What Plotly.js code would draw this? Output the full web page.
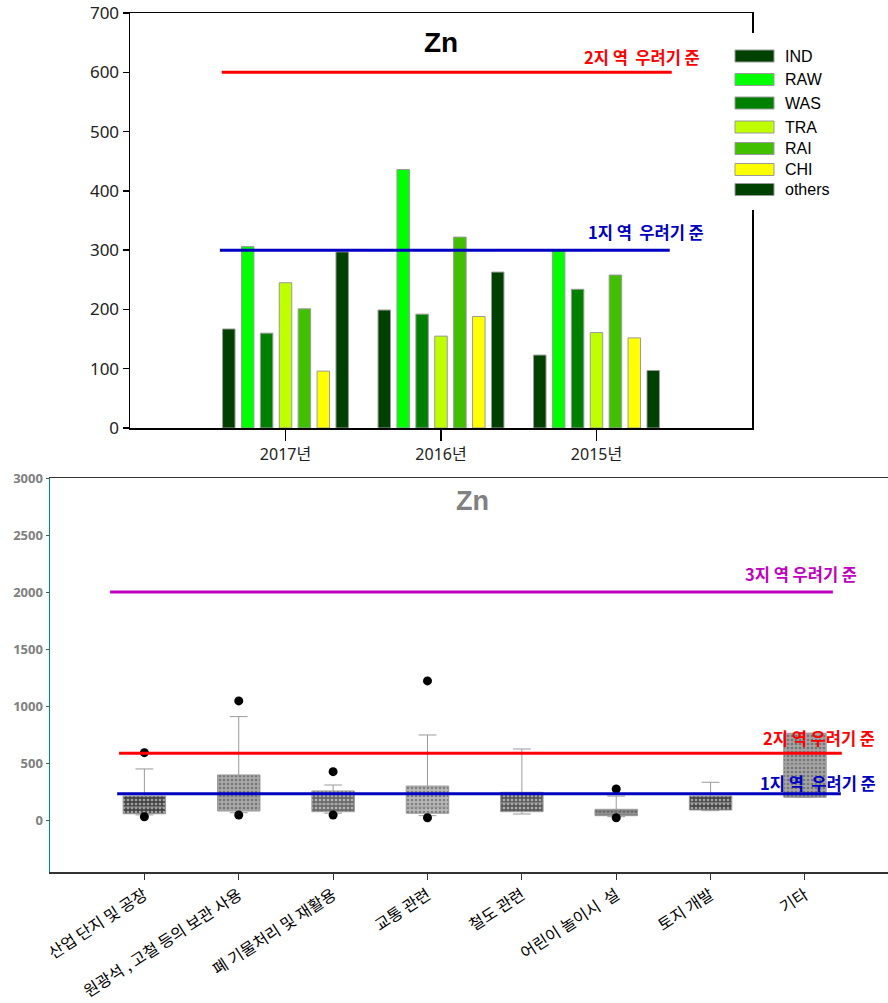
<!DOCTYPE html>
<html>
<head>
<meta charset="utf-8">
<script src="https://cdn.plot.ly/plotly-3.0.1.min.js"></script>
<style>html,body{margin:0;padding:0;background:#fff}#chart{width:888px;height:1003px}</style>
</head>
<body>
<div id="chart"></div>
<script>
// ---------- DATA: top bar chart ----------
const years = ['2017년', '2016년', '2015년'];
const seriesNames = ['IND', 'RAW', 'WAS', 'TRA', 'RAI', 'CHI', 'others'];
const IND    = [167, 199, 123];
const RAW    = [306, 436, 301];
const WAS    = [160, 192, 234];
const TRA    = [245, 155, 161];
const RAI    = [201, 322, 258];
const CHI    = [96, 188, 152];
const others = [297, 263, 97];
const topThresholds = [600, 300];
const topThresholdLabels = ['2지 역  우려기 준', '1지 역  우려기 준'];

// ---------- DATA: bottom box chart ----------
const categories = ['산업 단지 및 공장', '원광석 , 고철 등의 보관 사용', '폐 기물처리 및 재활용', '교통 관련', '철도 관련', '어린이 놀이시  설', '토지 개발', '기타'];
const q1         = [55, 79, 73, 59, 73, 38, 88, 199];
const median     = [114, 200, 140, 114, 150, 60, 150, 489];
const q3         = [211, 395, 255, 298, 243, 94, 211, 761];
const lowerFence = [45, 64, 60, 38, 53, 29, 82, 199];
const upperFence = [448, 907, 307, 746, 623, 210, 331, 761];
const outlierCat = ['산업 단지 및 공장', '산업 단지 및 공장', '원광석 , 고철 등의 보관 사용', '원광석 , 고철 등의 보관 사용', '폐 기물처리 및 재활용', '폐 기물처리 및 재활용', '교통 관련', '교통 관련', '어린이 놀이시  설', '어린이 놀이시  설'];
const outlierVal = [591, 29, 1045, 44, 424, 44, 1220, 20, 272, 20];
const bottomThresholds = [2000, 585, 230];
const bottomThresholdLabels = ['3지 역 우려기 준', '2지 역 우려기 준', '1지 역  우려기 준'];

// ---------- STYLE ----------
const W = 888, H = 1003;
const fx = p => p / W;
const fy = p => 1 - p / H;
const seriesColors = ['#004000', '#00ff00', '#008000', '#bfff00', '#40c000', '#ffff00', '#004000'];
const boxFills = ['#454545', '#a8a8a8', '#6a6a6a', '#b8b8b8', '#5a5a5a', '#848484', '#484848', '#a4a4a4'];
const boxDots  = ['#9a9a9a', '#d8d8d8', '#9a9a9a', '#e0e0e0', '#8c8c8c', '#848484', '#9a9a9a', '#d4d4d4'];
const seriesData = [IND, RAW, WAS, TRA, RAI, CHI, others];
const korFont = 'Noto Sans CJK KR, Noto Sans, sans-serif';

const traces = [];
seriesNames.forEach((n, i) => {
  traces.push({
    type: 'bar', name: n, x: years, y: seriesData[i], xaxis: 'x', yaxis: 'y',
    marker: {color: seriesColors[i], line: {color: '#9a9a9a', width: 1}},
    showlegend: false
  });
});
// textured box bodies
traces.push({
  type: 'bar', x: categories, base: q1, y: q3.map((v, i) => v - q1[i]), width: 0.45,
  xaxis: 'x2', yaxis: 'y2', showlegend: false,
  marker: {color: boxFills, line: {width: 0},
    pattern: {shape: '.', fgcolor: boxDots, size: 4, solidity: 0.35, fillmode: 'overlay'}}
});
categories.forEach((c, i) => {
  traces.push({
    type: 'box', x: [c], q1: [q1[i]], median: [median[i]], q3: [q3[i]],
    lowerfence: [lowerFence[i]], upperfence: [upperFence[i]],
    xaxis: 'x2', yaxis: 'y2', width: 0.45, whiskerwidth: 0.42,
    fillcolor: 'rgba(0,0,0,0)', line: {color: '#9a9a9a', width: 1},
    boxpoints: false, showlegend: false
  });
});
traces.push({
  type: 'scatter', mode: 'markers', x: outlierCat, y: outlierVal, xaxis: 'x2', yaxis: 'y2',
  marker: {color: '#000', size: 9}, showlegend: false
});

const shapes = [];
const annotations = [];
// top thresholds
const topLineCols = ['#ff0000', '#0000c0'];
const topLineX = [[-0.41, 2.484], [-0.422, 2.471]];
topThresholds.forEach((v, i) => {
  shapes.push({type: 'line', xref: 'x', yref: 'y', x0: topLineX[i][0], x1: topLineX[i][1], y0: v, y1: v,
    line: {color: topLineCols[i], width: 3}, layer: 'above'});
});
const topLabPos = [[642, 57], [646, 232]];
topThresholdLabels.forEach((t, i) => {
  annotations.push({text: '<b>' + t + '</b>', xref: 'paper', yref: 'paper', x: fx(topLabPos[i][0]), y: fy(topLabPos[i][1]),
    xanchor: 'center', yanchor: 'middle', showarrow: false, font: {family: korFont, size: 16.5, color: topLineCols[i]}});
});
// legend cover + legend
shapes.push({type: 'rect', xref: 'paper', yref: 'paper', x0: fx(733), x1: fx(845), y0: fy(33), y1: fy(210),
  fillcolor: '#ffffff', line: {width: 0}, layer: 'above'});
const legendRowsPx = [56, 79.5, 103, 127, 148.5, 169.5, 189.5];
seriesNames.forEach((n, i) => {
  const yc = legendRowsPx[i];
  shapes.push({type: 'rect', xref: 'paper', yref: 'paper', x0: fx(735), x1: fx(774), y0: fy(yc - 6), y1: fy(yc + 6),
    fillcolor: seriesColors[i], line: {color: '#9a9a9a', width: 1}, layer: 'above'});
  annotations.push({text: n, xref: 'paper', yref: 'paper', x: fx(783), y: fy(yc), xanchor: 'left', yanchor: 'middle',
    showarrow: false, font: {family: 'Liberation Sans, Arial, sans-serif', size: 16, color: '#000'}});
});
// top title
annotations.push({text: '<b>Zn</b>', xref: 'paper', yref: 'paper', x: fx(441), y: fy(42), xanchor: 'center', yanchor: 'middle',
  showarrow: false, font: {family: 'Liberation Sans, Arial, sans-serif', size: 28, color: '#000'}});

// bottom thresholds
const botLineCols = ['#c000c0', '#ff0000', '#0000c0'];
const botLineX = [[-0.363, 7.296], [-0.268, 7.39], [-0.288, 7.38]];
bottomThresholds.forEach((v, i) => {
  shapes.push({type: 'line', xref: 'x2', yref: 'y2', x0: botLineX[i][0], x1: botLineX[i][1], y0: v, y1: v,
    line: {color: botLineCols[i], width: 3}, layer: 'above'});
});
const botLabPos = [[801, 574], [819, 738], [818, 783]];
bottomThresholdLabels.forEach((t, i) => {
  annotations.push({text: '<b>' + t + '</b>', xref: 'paper', yref: 'paper', x: fx(botLabPos[i][0]), y: fy(botLabPos[i][1]),
    xanchor: 'center', yanchor: 'middle', showarrow: false, font: {family: korFont, size: 16.5, color: botLineCols[i]}});
});
annotations.push({text: '<b>Zn</b>', xref: 'paper', yref: 'paper', x: fx(472), y: fy(501), xanchor: 'center', yanchor: 'middle',
  showarrow: false, font: {family: 'Liberation Sans, Arial, sans-serif', size: 27, color: '#808080'}});

const layout = {
  width: W, height: H, margin: {l: 0, r: 0, t: 0, b: 0}, paper_bgcolor: '#fff', plot_bgcolor: 'rgba(0,0,0,0)',
  showlegend: false, barmode: 'group', bargap: 0.149, bargroupgap: 0.34, boxmode: 'overlay',
  xaxis: {domain: [fx(130), fx(752)], anchor: 'y', type: 'category', range: [-1, 3], showgrid: false, zeroline: false,
    showline: true, linecolor: '#000', linewidth: 1.5, mirror: true, ticks: 'outside', ticklen: 11, tickcolor: '#000', tickwidth: 1.5,
    tickfont: {family: 'Noto Sans, Noto Sans CJK KR, sans-serif', size: 16, color: '#222'}, automargin: false},
  yaxis: {domain: [fy(428), fy(13)], anchor: 'x', range: [0, 700], dtick: 100, showgrid: false, zeroline: false,
    showline: true, linecolor: '#000', linewidth: 1.5, mirror: true, ticks: 'outside', ticklen: 6, tickcolor: '#000', tickwidth: 1.5,
    tickfont: {family: 'Noto Sans, sans-serif', size: 17, color: '#222'}, automargin: false},
  xaxis2: {domain: [fx(50), 1], anchor: 'y2', type: 'category', range: [-1, 7.88], showgrid: false, zeroline: false,
    showline: true, linecolor: '#333', linewidth: 1.5, mirror: true, ticks: 'outside', ticklen: 6, tickcolor: '#333',
    tickangle: -33, tickfont: {family: korFont, size: 16, color: '#000'}, automargin: false},
  yaxis2: {domain: [fy(872), fy(478)], anchor: 'x2', range: [-456, 3000], tickvals: [0, 500, 1000, 1500, 2000, 2500, 3000],
    showgrid: false, zeroline: false, showline: true, linecolor: '#008b8b', linewidth: 1.5, ticks: 'outside', ticklen: 3, tickcolor: '#555',
    tickfont: {family: 'Open Sans, Noto Sans, sans-serif', size: 13, color: '#808080', weight: 'bold'}, automargin: false},
  shapes: shapes, annotations: annotations
};

Plotly.newPlot('chart', traces, layout, {displayModeBar: false, staticPlot: true});
</script>
</body>
</html>
